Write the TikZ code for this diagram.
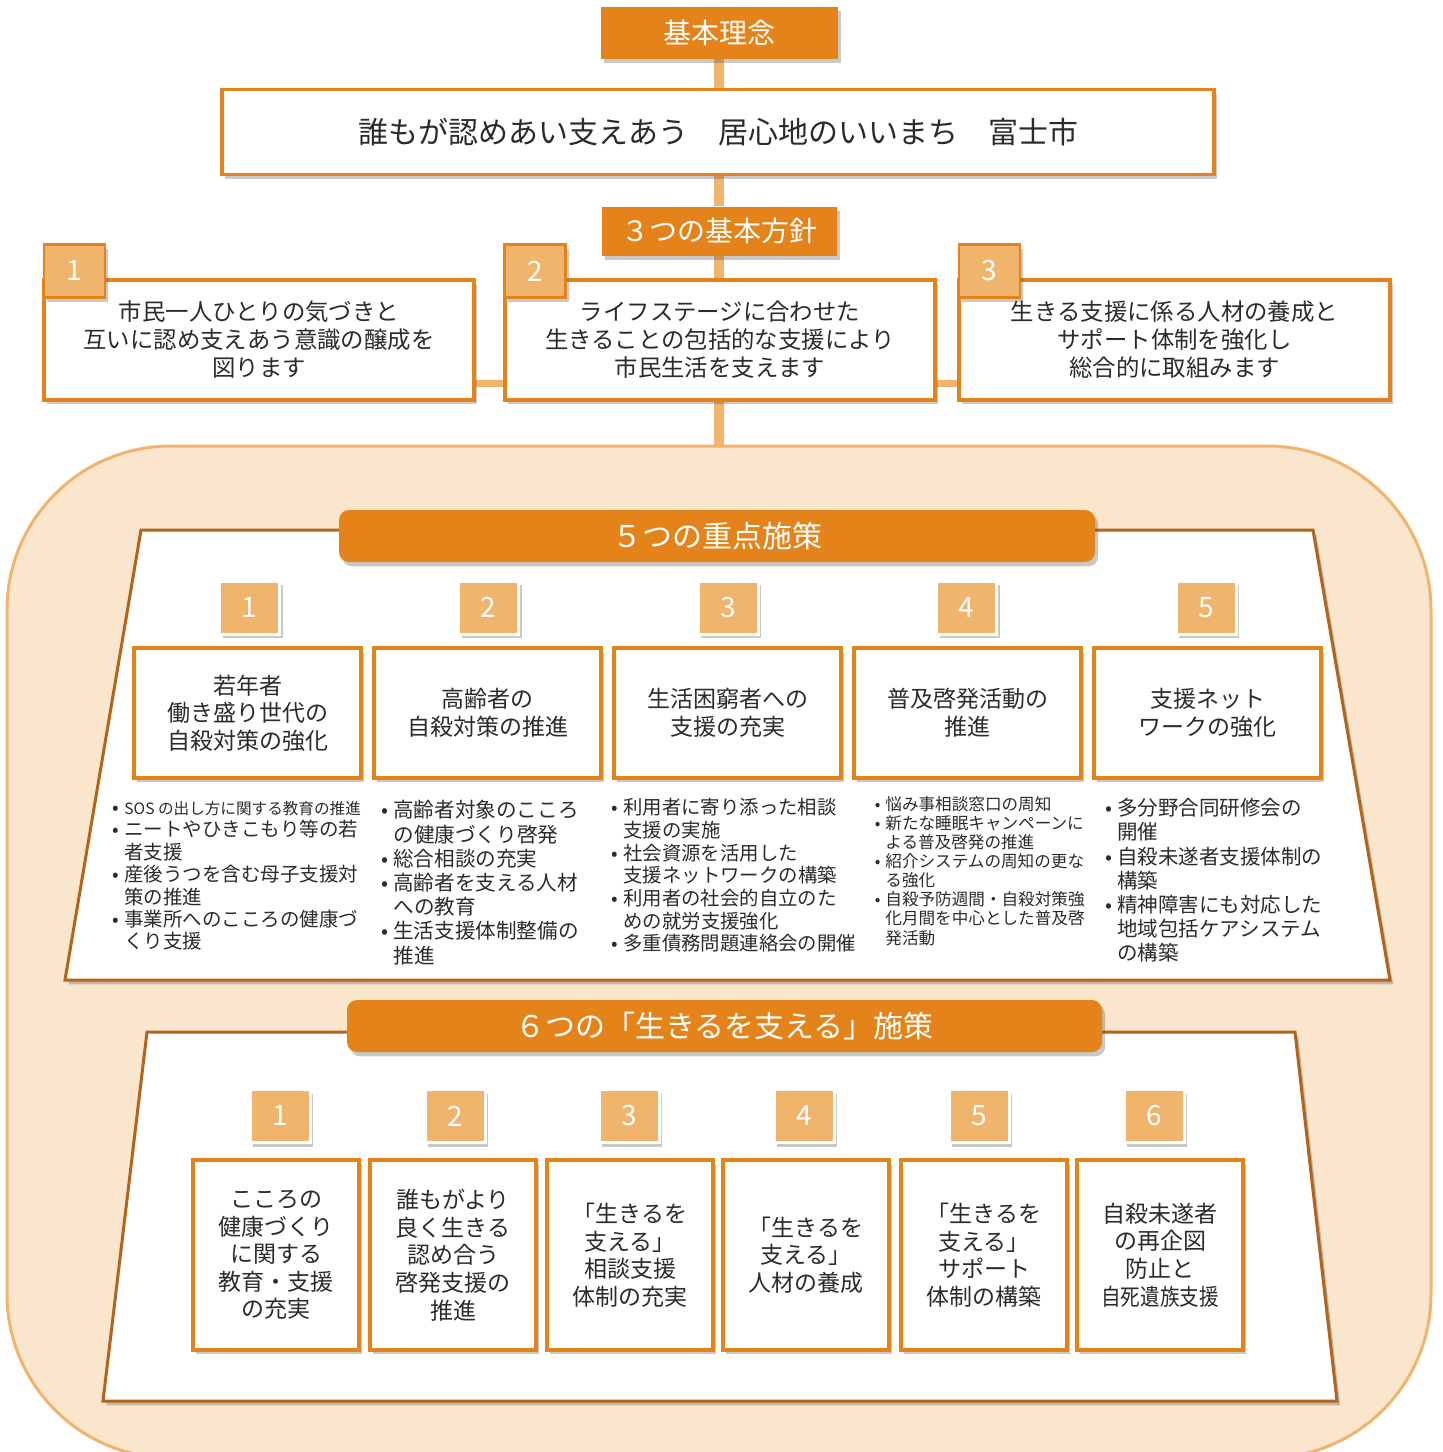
\documentclass[tikz,border=0pt]{standalone}
\usepackage{fontspec}
\usepackage{graphicx}
\setmainfont{Noto Sans CJK JP}
\usetikzlibrary{shadows}
\definecolor{orng}{HTML}{E4831A}
\definecolor{lorng}{HTML}{F1B46C}
\definecolor{peach}{HTML}{FAE6CD}
\definecolor{regline}{HTML}{F2B36D}
\definecolor{trapline}{HTML}{B3641C}
\definecolor{txt}{HTML}{2B2B2B}
\pgfdeclarelayer{bg}
\pgfsetlayers{bg,main}
\newcommand\fsz[2]{\fontsize{#1}{#2}\selectfont}
\newcommand\blt{\llap{•\hspace{2.5pt}}}
\tikzset{
 shd/.style={drop shadow={shadow xshift=1.6pt,shadow yshift=-2.2pt,opacity=0.3,fill=black!70}},
 hdr/.style={fill=orng, text=white, inner sep=0pt, shd},
 wbox/.style={draw=orng, line width=1.6pt, fill=white, text=txt, align=center, inner sep=0pt, shd},
 ptab/.style={draw=orng, line width=1.1pt, fill=lorng, text=white, inner sep=0pt, minimum width=30.5pt, minimum height=26.5pt, font=\fsz{14}{14}, shd},
 stab/.style={draw=white, line width=1.5pt, fill=lorng, text=white, inner sep=0pt, minimum width=30pt, minimum height=26.5pt, font=\fsz{14}{14}, shd},
 conn/.style={draw=lorng, line width=5pt},
 hconn/.style={draw=lorng, line width=3.5pt},
 trap/.style={draw=trapline, line width=1.5pt, fill=white, line join=miter, shd},
 blist/.style={anchor=north west, inner sep=0pt, align=left, text=txt},
 boxA/.style={wbox, minimum width=113.5pt, minimum height=65pt, font=\fsz{11.5}{13.8}},
 boxB/.style={wbox, minimum width=83pt, minimum height=95pt, font=\fsz{11.5}{13.8}},
 pbox/.style={wbox, minimum width=215pt, minimum height=60pt, font=\fsz{11.7}{14}},
}
\begin{document}
\begin{tikzpicture}[x=0.5pt,y=-0.5pt]
\useasboundingbox (0,0) rectangle (1442,1452);
\begin{scope}
\clip (0,0) rectangle (1442,1452);
\draw[fill=peach, draw=regline, line width=1.5pt, rounded corners=82pt] (7,446) rectangle (1431,1458);
\end{scope}
\coordinate (regtop) at (719,446);

% top part
\node[hdr, minimum width=118.5pt, minimum height=26pt, font=\fsz{14}{14}] (kihon) at (719,33) {基本理念};
\node[wbox, minimum width=496pt, minimum height=42.5pt, font=\fsz{15}{18}] (main) at (718,132) {誰もが認めあい支えあう　居心地のいいまち　富士市};
\node[hdr, minimum width=117.5pt, minimum height=24.5pt, font=\fsz{14}{14}] (hoshin) at (719,231) {３つの基本方針};

\node[pbox] (p1) at (259,340) {市民一人ひとりの気づきと\\互いに認め支えあう意識の醸成を\\図ります};
\node[pbox] (p2) at (720,340) {ライフステージに合わせた\\生きることの包括的な支援により\\市民生活を支えます};
\node[pbox, minimum width=215.5pt] (p3) at (1174.5,340) {生きる支援に係る人材の養成と\\サポート体制を強化し\\総合的に取組みます};
\node[ptab] (pt1) at (74.5,271) {1};
\node[ptab] (pt2) at (535,271) {2};
\node[ptab] (pt3) at (989.5,271) {3};

\begin{pgfonlayer}{bg}
\draw[conn] (kihon.south) -- (kihon.south |- main.north);
\draw[conn] (main.south -| kihon.south) -- (hoshin.north);
\draw[conn] (hoshin.south) -- (hoshin.south |- p2.north);
\draw[conn] (p2.south -| hoshin.south) -- (regtop);
\draw[hconn] ([yshift=-21.5pt]p1.east) -- ([yshift=-21.5pt]p2.west);
\draw[hconn] ([yshift=-21.5pt]p2.east) -- ([yshift=-21.5pt]p3.west);
\end{pgfonlayer}

% section 5
\draw[trap] (141,530) -- (1313,530) -- (1390,980) -- (65,980) -- cycle;
\node[hdr, rounded corners=5pt, minimum width=378pt, minimum height=26pt, font=\fsz{15}{15}] (hdrA) at (717,536) {５つの重点施策};

\node[stab] (ta1) at (249.5,607.5) {1};
\node[stab] (ta2) at (488.5,607.5) {2};
\node[stab] (ta3) at (728,607.5) {3};
\node[stab] (ta4) at (966.5,607.5) {4};
\node[stab] (ta5) at (1206,607.5) {5};

\node[boxA] (a1) at (247.5,713) {若年者\\働き盛り世代の\\自殺対策の強化};
\node[boxA] (a2) at (487.5,713) {高齢者の\\自殺対策の推進};
\node[boxA] (a3) at (727.5,713) {生活困窮者への\\支援の充実};
\node[boxA] (a4) at (967.5,713) {普及啓発活動の\\推進};
\node[boxA] (a5) at (1207.5,713) {支援ネット\\ワークの強化};

\node[blist, font=\fsz{9.75}{11.2}] (la1) at (124,801) {\blt{\fsz{7.8}{11.2}SOS の出し方に関する教育の推進}\\\blt ニートやひきこもり等の若\\者支援\\\blt 産後うつを含む母子支援対\\策の推進\\\blt 事業所へのこころの健康づ\\くり支援};
\node[blist, font=\fsz{10.3}{12.1}] (la2) at (393,800) {\blt 高齢者対象のこころ\\の健康づくり啓発\\\blt 総合相談の充実\\\blt 高齢者を支える人材\\への教育\\\blt 生活支援体制整備の\\推進};
\node[blist, font=\fsz{9.7}{11.35}] (la3) at (623,798) {\blt 利用者に寄り添った相談\\支援の実施\\\blt 社会資源を活用した\\支援ネットワークの構築\\\blt 利用者の社会的自立のた\\めの就労支援強化\\\blt 多重債務問題連絡会の開催};
\node[blist, font=\fsz{8.3}{9.55}] (la4) at (885,796) {\blt 悩み事相談窓口の周知\\\blt 新たな睡眠キャンペーンに\\よる普及啓発の推進\\\blt 紹介システムの周知の更な\\る強化\\\blt 自殺予防週間・自殺対策強\\化月間を中心とした普及啓\\発活動};
\node[blist, font=\fsz{10.25}{12.1}] (la5) at (1117,798) {\blt 多分野合同研修会の\\開催\\\blt 自殺未遂者支援体制の\\構築\\\blt 精神障害にも対応した\\地域包括ケアシステム\\の構築};

% section 6
\draw[trap] (147,1032) -- (1295,1032) -- (1337,1401) -- (103,1401) -- cycle;
\node[hdr, rounded corners=5pt, minimum width=377.5pt, minimum height=26pt, font=\fsz{15}{15}] (hdrB) at (724.5,1026) {６つの「生きるを支える」施策};

\node[stab] (tb1) at (280,1116) {1};
\node[stab] (tb2) at (455,1116) {2};
\node[stab] (tb3) at (629,1116) {3};
\node[stab] (tb4) at (804,1116) {4};
\node[stab] (tb5) at (979,1116) {5};
\node[stab] (tb6) at (1154,1116) {6};

\node[boxB] (b1) at (276,1255) {こころの\\健康づくり\\に関する\\教育・支援\\の充実};
\node[boxB] (b2) at (453,1255) {誰もがより\\良く生きる\\認め合う\\啓発支援の\\推進};
\node[boxB] (b3) at (630,1255) {「生きるを\\支える」\\相談支援\\体制の充実};
\node[boxB] (b4) at (806,1255) {「生きるを\\支える」\\人材の養成};
\node[boxB] (b5) at (984,1255) {「生きるを\\支える」\\サポート\\体制の構築};
\node[boxB] (b6) at (1160,1255) {自殺未遂者\\の再企図\\防止と\\\scalebox{0.85}[1]{自死遺族支援}};
\end{tikzpicture}
\end{document}
